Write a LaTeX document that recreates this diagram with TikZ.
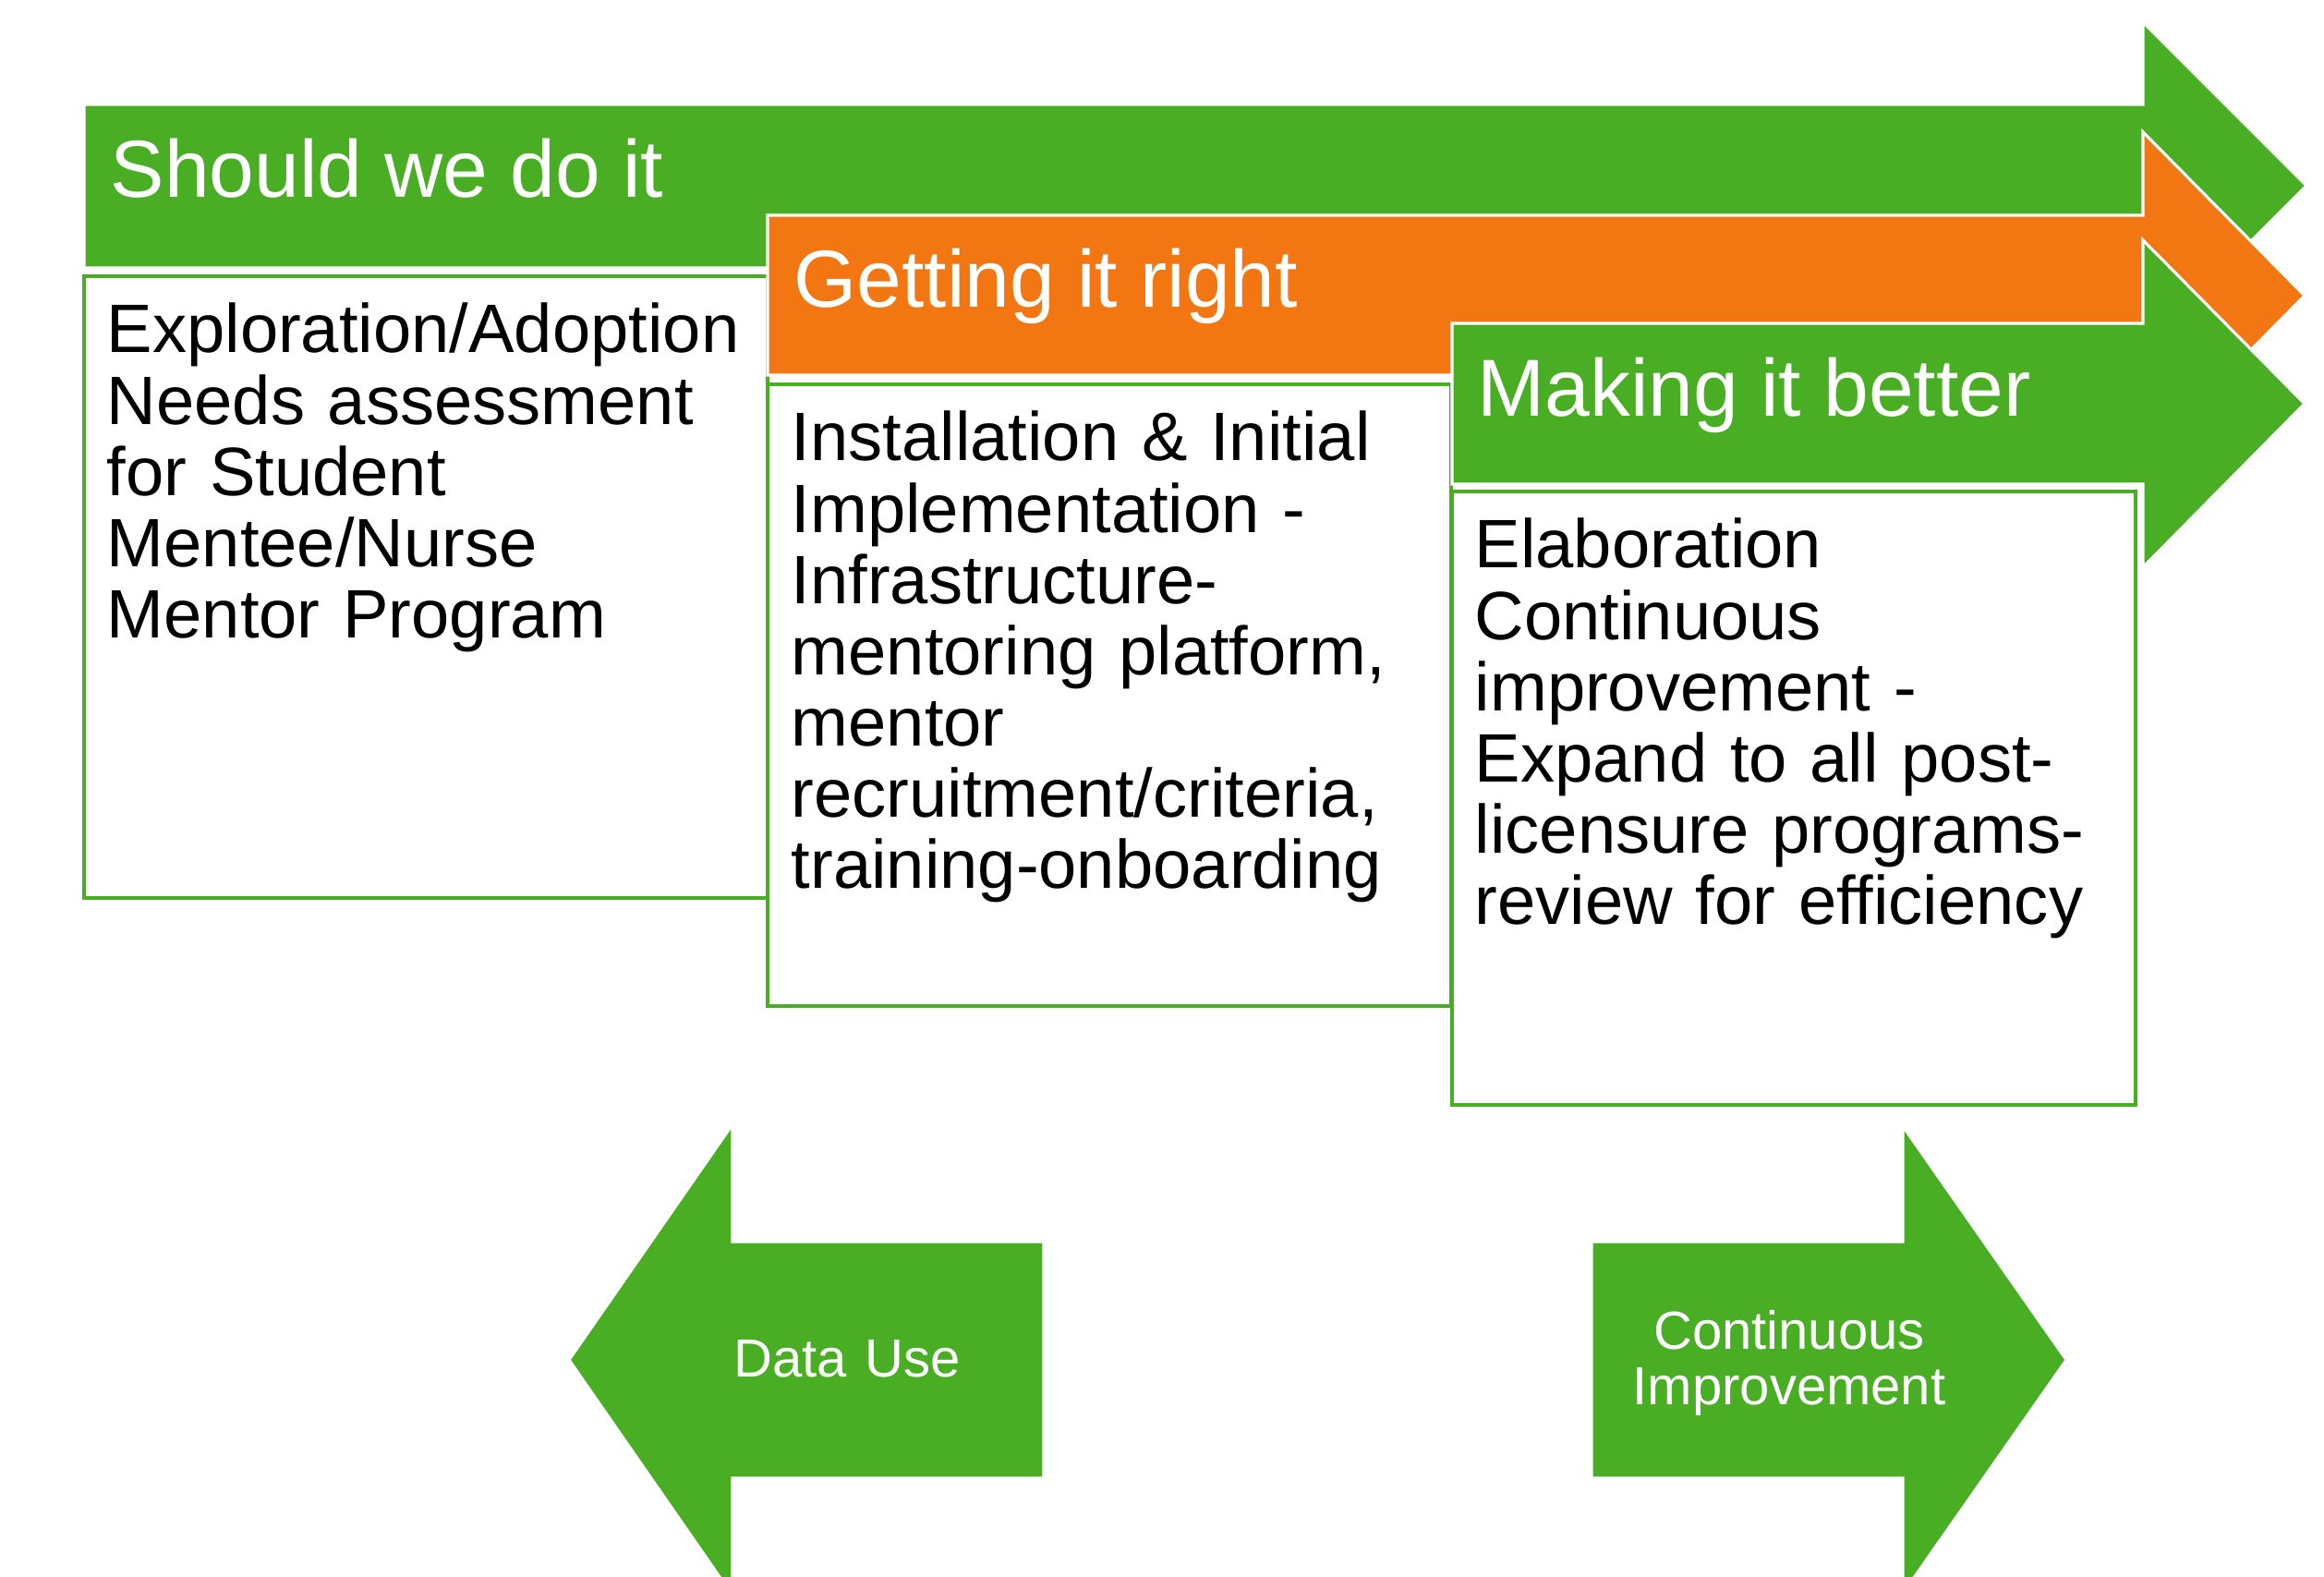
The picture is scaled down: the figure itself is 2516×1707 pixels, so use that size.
\documentclass[tikz,border=0pt]{standalone}
\usepackage{fontspec}
\setmainfont{Liberation Sans}
\usepackage{tikz}
\definecolor{leafgreen}{RGB}{74,174,37}
\definecolor{rustorange}{RGB}{242,118,18}
\tikzset{stage/.style={draw=white, line width=0.9pt},
  stagebox/.style={draw=leafgreen, fill=white, line width=0.9pt},
  stagetitle/.style={text=white, inner sep=0pt, anchor=base west, font=\fontsize{24.9pt}{26pt}\selectfont},
  stagetext/.style={text=black, inner sep=0pt, anchor=base west, text width=7.2cm, align=left, font=\fontsize{21.1pt}{21.9pt}\selectfont},
  looptext/.style={text=white, inner sep=0pt, anchor=base, text width=4cm, align=center, font=\fontsize{16.5pt}{17.1pt}\selectfont}}

\begin{document}
\begin{tikzpicture}[x=0.01cm, y=-0.01cm]
		\useasboundingbox (0,0) rectangle (2516,1707);
		\fill[white] (0,0) rectangle (2516,1707);
		% first stage
		\filldraw[stage, fill=leafgreen] (91,113) -- (2320,113) -- (2320,24) -- (2497,201) -- (2320,378) -- (2320,290) -- (91,290) -- cycle;
		\filldraw[stagebox] (91,299) rectangle (831,972);
		\node[stagetitle] (should) at (119,214) {Should we do it};
		\node[stagetext] (explore) at (115,382) {Exploration/Adoption\\Needs assessment\\for Student\\Mentee/Nurse\\Mentor Program};
		% second stage
		\filldraw[stage, fill=rustorange] (831,233) -- (2320,233) -- (2320,143) -- (2495,320) -- (2320,497) -- (2320,406) -- (831,406) -- cycle;
		\filldraw[stagebox] (831,416) rectangle (1571,1089);
		\node[stagetitle] (right) at (859,333) {Getting it right};
		\node[stagetext] (install) at (856,499) {Installation \& Initial\\Implementation -\\Infrastructure-\\mentoring platform,\\mentor\\recruitment/criteria,\\training-onboarding};
		% third stage
		\filldraw[stage, fill=leafgreen] (1572,350) -- (2320,350) -- (2320,260) -- (2495,437) -- (2320,614) -- (2320,524) -- (1572,524) -- cycle;
		\filldraw[stagebox] (1572,532) rectangle (2312,1196);
		\node[stagetitle] (better) at (1599,451) {Making it better};
		\node[stagetext] (elab) at (1596,615) {Elaboration\\Continuous\\improvement -\\Expand to all post-\\licensure programs-\\review for efficiency};
		% loop arrows
		\filldraw[stage, fill=leafgreen] (1130,1344) -- (793,1344) -- (793,1217) -- (616,1472) -- (793,1727) -- (793,1600) -- (1130,1600) -- cycle;
		\filldraw[stage, fill=leafgreen] (1723,1344) -- (2060,1344) -- (2060,1219) -- (2237,1472) -- (2060,1725) -- (2060,1600) -- (1723,1600) -- cycle;
		\node[looptext] (datause) at (917,1490) {Data Use};
		\node[looptext] (improve) at (1937,1460) {Continuous\\Improvement};
		\end{tikzpicture}
\end{document}
